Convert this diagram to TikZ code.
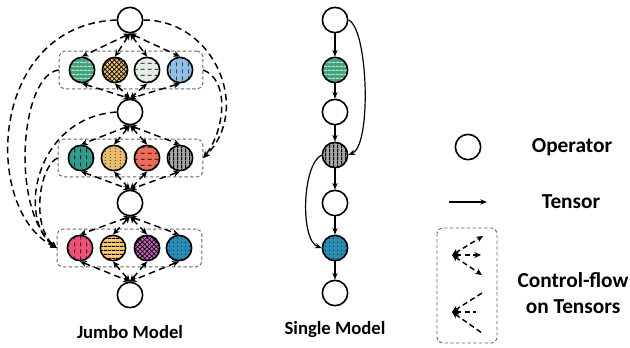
\documentclass[tikz,border=0pt]{standalone}
\usepackage{fontspec}
\setmainfont{Carlito}
\usetikzlibrary{arrows.meta, patterns, fit}

%% kernel colours
\definecolor{kgreen}{RGB}{70,160,120}
\definecolor{kgreenl}{RGB}{175,228,205}
\definecolor{ktan}{RGB}{232,190,110}
\definecolor{kpale}{RGB}{226,238,228}
\definecolor{kblue}{RGB}{145,190,230}
\definecolor{kteal}{RGB}{50,155,140}
\definecolor{kred}{RGB}{236,110,90}
\definecolor{kgray}{RGB}{165,165,165}
\definecolor{kpink}{RGB}{238,82,120}
\definecolor{korange}{RGB}{255,200,110}
\definecolor{kpurple}{RGB}{196,100,182}
\definecolor{kdeep}{RGB}{40,140,180}

%% fills of the kernels
\pgfdeclarepatternformonly{hbars}{\pgfqpoint{0pt}{0pt}}{\pgfqpoint{3pt}{3pt}}{\pgfqpoint{3pt}{3pt}}{
	\pgfsetlinewidth{0.9pt}
	\pgfpathmoveto{\pgfqpoint{0pt}{1.5pt}}
	\pgfpathlineto{\pgfqpoint{3pt}{1.5pt}}
	\pgfusepath{stroke}
}
\pgfdeclarepatternformonly{vbars}{\pgfqpoint{0pt}{0pt}}{\pgfqpoint{3pt}{3pt}}{\pgfqpoint{3pt}{3pt}}{
	\pgfsetlinewidth{0.8pt}
	\pgfpathmoveto{\pgfqpoint{1.5pt}{0pt}}
	\pgfpathlineto{\pgfqpoint{1.5pt}{3pt}}
	\pgfusepath{stroke}
}
\pgfdeclarepatternformonly{xhatch}{\pgfqpoint{-1pt}{-1pt}}{\pgfqpoint{4pt}{4pt}}{\pgfqpoint{3.5pt}{3.5pt}}{
	\pgfsetlinewidth{0.45pt}
	\pgfpathmoveto{\pgfqpoint{0pt}{0pt}}
	\pgfpathlineto{\pgfqpoint{3.5pt}{3.5pt}}
	\pgfpathmoveto{\pgfqpoint{0pt}{3.5pt}}
	\pgfpathlineto{\pgfqpoint{3.5pt}{0pt}}
	\pgfusepath{stroke}
}
\pgfdeclarepatternformonly{hdash}{\pgfqpoint{0pt}{0pt}}{\pgfqpoint{5pt}{4.5pt}}{\pgfqpoint{5pt}{4.5pt}}{
	\pgfsetlinewidth{0.6pt}
	\pgfpathmoveto{\pgfqpoint{0.5pt}{2.25pt}}
	\pgfpathlineto{\pgfqpoint{3.5pt}{2.25pt}}
	\pgfusepath{stroke}
}
\pgfdeclarepatternformonly{vdash}{\pgfqpoint{0pt}{0pt}}{\pgfqpoint{4.5pt}{5pt}}{\pgfqpoint{4.5pt}{5pt}}{
	\pgfsetlinewidth{0.6pt}
	\pgfpathmoveto{\pgfqpoint{2.25pt}{0.5pt}}
	\pgfpathlineto{\pgfqpoint{2.25pt}{3.5pt}}
	\pgfusepath{stroke}
}
\pgfdeclarepatternformonly{vdots}{\pgfqpoint{0pt}{0pt}}{\pgfqpoint{3.5pt}{2.5pt}}{\pgfqpoint{3.5pt}{2.5pt}}{
	\pgfpathcircle{\pgfqpoint{1.75pt}{1.25pt}}{0.4pt}
	\pgfusepath{fill}
}
\pgfdeclarepatternformonly{griddots}{\pgfqpoint{0pt}{0pt}}{\pgfqpoint{3pt}{3pt}}{\pgfqpoint{3pt}{3pt}}{
	\pgfpathcircle{\pgfqpoint{1.5pt}{1.5pt}}{0.45pt}
	\pgfusepath{fill}
}

\begin{document}
\begin{tikzpicture}[x=0.75pt, y=-0.75pt,
	op/.style={circle, draw, line width=1.2pt, minimum size=19pt, inner sep=0pt},
	kernel/.style 2 args={op, preaction={fill=#1}, pattern=#2, pattern color=black},
	group/.style={draw=black!60, line width=0.7pt, dash pattern=on 2.5pt off 1.8pt, rounded corners=4pt, inner xsep=7pt, inner ysep=4pt},
	ctrl/.style={line width=1.1pt, dash pattern=on 5pt off 3.2pt, >={Stealth[length=5pt, width=4.5pt]}},
	tensor/.style={line width=0.9pt, -{Stealth[length=5pt, width=4pt]}},
	lbl/.style={font=\bfseries\fontsize{14}{16}\selectfont},
	key/.style={font=\bfseries\fontsize{16}{19}\selectfont, align=center}
]
	\useasboundingbox (0,0) rectangle (630,347);

	%% Jumbo model: operators
	\node [op] (j0) at (130,20) {};
	\node [op] (j1) at (130,112) {};
	\node [op] (j2) at (130,203) {};
	\node [op] (j3) at (130,295) {};

	%% Jumbo model: kernels
	\node [kernel={kgreen}{hbars}, pattern color=kgreenl] (a1) at (82,70) {};
	\node [kernel={ktan}{xhatch}] (a2) at (115,70) {};
	\node [kernel={kpale}{hdash}] (a3) at (147,70) {};
	\node [kernel={kblue}{vdash}] (a4) at (180,70) {};

	\node [kernel={kteal}{vdash}] (b1) at (81,158) {};
	\node [kernel={ktan}{vdots}] (b2) at (114,158) {};
	\node [kernel={kred}{hdash}] (b3) at (147,158) {};
	\node [kernel={kgray}{vbars}] (b4) at (180,158) {};

	\node [kernel={kpink}{vdash}] (c1) at (80,248) {};
	\node [kernel={korange}{hbars}] (c2) at (113,248) {};
	\node [kernel={kpurple}{xhatch}] (c3) at (147,248) {};
	\node [kernel={kdeep}{griddots}] (c4) at (179,248) {};

	\node [group, fit=(a1)(a4)] (ga) {};
	\node [group, fit=(b1)(b4)] (gb) {};
	\node [group, fit=(c1)(c4)] (gc) {};

	%% control flow in and out of every kernel
	\foreach \g/\up/\dn in {a/j0/j1, b/j1/j2, c/j2/j3}
		\foreach \i in {1,...,4} {
			\draw [ctrl, <->] (\up.south) -- (\g\i.north);
			\draw [ctrl, <->] (\g\i.south) -- (\dn.north);
		}

	%% long jumps
	\draw [ctrl, ->] (j0.east) .. controls (215,20) and (252,110) .. (gb.east);
	\draw [ctrl, ->] (ga.east) .. controls (230,80) and (225,130) .. (gb.east);
	\draw [ctrl, ->] (j0.west) .. controls (-12,25) and (-18,210) .. (gc.west);
	\draw [ctrl, ->] (ga.west) .. controls (20,75) and (10,210) .. (gc.west);
	\draw [ctrl, ->] (j1.west) .. controls (34,118) and (17,220) .. (gc.west);
	\draw [ctrl, ->] (gb.west) .. controls (40,165) and (30,225) .. (gc.west);

	\node [lbl] (jumbo) at (130,332) {Jumbo Model};

	%% Single model
	\node [op] (s0) at (335,20) {};
	\node [kernel={kgreen}{hbars}, pattern color=kgreenl] (s1) at (335,70) {};
	\node [op] (s2) at (335,112) {};
	\node [kernel={kgray}{vbars}] (s3) at (335,155) {};
	\node [op] (s4) at (335,203) {};
	\node [kernel={kdeep}{griddots}] (s5) at (335,248) {};
	\node [op] (s6) at (335,293) {};

	\foreach \a/\b in {s0/s1, s1/s2, s2/s3, s3/s4, s4/s5, s5/s6}
		\draw [tensor] (\a) -- (\b);
	\draw [tensor] (s0.east) .. controls (368,28) and (372,145) .. (s3.east);
	\draw [tensor] (s3.west) .. controls (302,165) and (300,240) .. (s5.west);

	\node [lbl] (single) at (335,330) {Single Model};

	%% Legend
	\node [op] (lop) at (468,147) {};
	\node [key] (lopt) at (572,147) {Operator};

	\coordinate (ta) at (449,202);
	\coordinate (tb) at (487,202);
	\draw [tensor] (ta) -- (tb);
	\node [key] (lten) at (571,202) {Tensor};

	\draw [group] (437,228) rectangle (497,343);
	\coordinate (p) at (452,255);
	\coordinate (p1) at (483,236);
	\coordinate (p2) at (481,255);
	\coordinate (p3) at (482,275);
	\foreach \t in {p1, p2, p3}
		\draw [ctrl, dash pattern=on 4pt off 2.5pt, <->] (p) -- (\t);
	\coordinate (q) at (452,312);
	\coordinate (q1) at (482,293);
	\coordinate (q2) at (476,312);
	\coordinate (q3) at (482,333);
	\foreach \t in {q1, q2, q3}
		\draw [ctrl, dash pattern=on 4pt off 2.5pt, <-] (q) -- (\t);
	\node [key] (lcf) at (573,293) {Control-flow\\on Tensors};
\end{tikzpicture}
\end{document}
